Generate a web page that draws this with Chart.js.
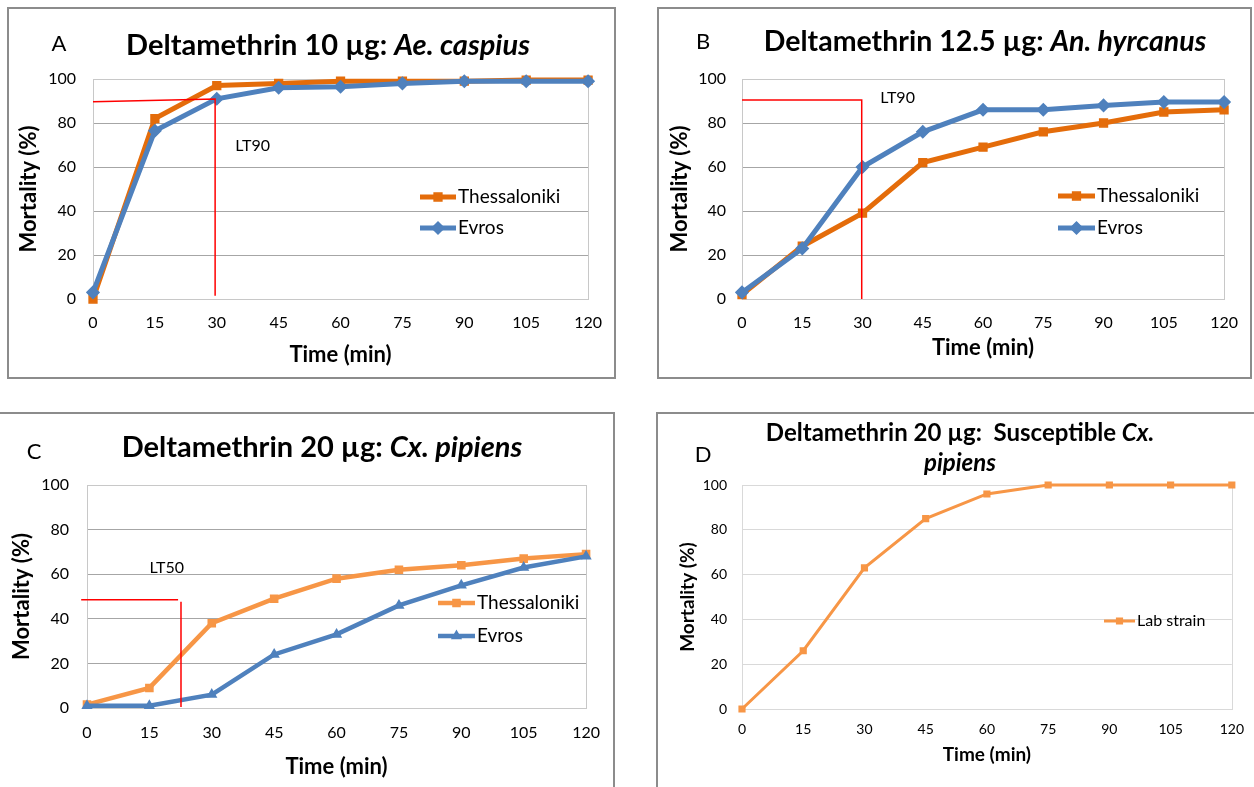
<!DOCTYPE html>
<html>
<head>
<meta charset="utf-8">
<script src="https://cdn.jsdelivr.net/npm/chart.js@4.4.1/dist/chart.umd.min.js"></script>
<style>
  html, body { margin: 0; padding: 0; background: #fff; width: 1254px; height: 787px; overflow: hidden; }
  canvas { position: absolute; }
  .frame { position: absolute; border: 2px solid #8c8c8c; box-sizing: border-box; pointer-events: none; }
</style>
</head>
<body>
<canvas id="chartA"></canvas>
<canvas id="chartB"></canvas>
<canvas id="chartC"></canvas>
<canvas id="chartD"></canvas>
<script>
// time points (min)
const times = [0, 15, 30, 45, 60, 75, 90, 105, 120];

// mortality (%)
const aThessaloniki = [0, 82, 97, 98, 99, 99, 99, 99.5, 99.5];
const aEvros = [3, 76.5, 91, 96, 96.5, 98, 99, 99, 99];
const bThessaloniki = [2, 24, 39, 62, 69, 76, 80, 85, 86];
const bEvros = [3, 23, 60, 76, 86, 86, 88, 89.5, 89.5];
const cThessaloniki = [1.5, 9, 38, 49, 58, 62, 64, 67, 69];
const cEvros = [1, 1, 6, 24, 33, 46, 55, 63, 68];
const dLabStrain = [0, 26, 63, 85, 96, 100, 100, 100, 100];

// LT guide lines (time, mortality)
const aLT90 = [[0, 89.7], [29.6, 90.9], [29.6, 1.5]];
const bLT90 = [[0, 90.5], [29.8, 90.5], [29.8, 0]];
const cLT50h = [[-1.4, 48.5], [21.9, 48.5]];
const cLT50v = [[22.6, 47.6], [22.6, 0.5]];

const FONT = 'Lato, "Open Sans", sans-serif';
const ORANGE_DARK = '#E46C0A';
const ORANGE = '#F79646';
const BLUE = '#4F81BD';
const RED = '#FF0000';

const pts = vals => times.map((t, i) => ({ x: t, y: vals[i] }));
const guide = arr => arr.map(p => ({ x: p[0], y: p[1] }));

function series(label, vals, color, style, radius, width, order) {
  return {
    label: label, data: pts(vals), borderColor: color, backgroundColor: color,
    borderWidth: width, pointStyle: style, pointRadius: radius, pointBorderWidth: 1.5,
    pointBackgroundColor: color, pointBorderColor: color, showLine: true, clip: false, order: order
  };
}
function guideLine(arr) {
  return {
    label: '', data: guide(arr), borderColor: RED, borderWidth: 1.5, pointRadius: 0,
    showLine: true, clip: false, order: 0
  };
}

// draws a list of text runs centred on cx
function drawRuns(ctx, runs, cx, cy) {
  let total = 0;
  runs.forEach(r => { ctx.font = r.font; r.w = ctx.measureText(r.text).width; total += r.w; });
  let x = cx - total / 2;
  ctx.textAlign = 'left';
  ctx.textBaseline = 'middle';
  runs.forEach(r => { ctx.font = r.font; ctx.fillText(r.text, x, cy); x += r.w; });
}

const panelDecor = {
  id: 'panelDecor',
  beforeDatasetsDraw(chart, args, opts) {
    const ctx = chart.ctx, ca = chart.chartArea;
    ctx.save();
    ctx.strokeStyle = opts.frameColor;
    ctx.lineWidth = 1;
    ctx.strokeRect(Math.round(ca.left) + 0.5, Math.round(ca.top) + 0.5,
      Math.round(ca.right - ca.left), Math.round(ca.bottom - ca.top));
    ctx.restore();
  },
  afterDraw(chart, args, opts) {
    const ctx = chart.ctx;
    const ox = opts.box.x, oy = opts.box.y;
    ctx.save();
    ctx.fillStyle = '#000';
    // panel letter
    ctx.font = opts.letterFont;
    ctx.textAlign = 'center';
    ctx.textBaseline = 'middle';
    ctx.fillText(opts.letter.text, opts.letter.x - ox, opts.letter.y - oy);
    // title lines
    opts.titles.forEach(t => drawRuns(ctx, t.runs, t.x - ox, t.y - oy));
    // LT label
    if (opts.ltLabel) {
      const xs = chart.scales.x, ys = chart.scales.y;
      ctx.font = opts.ltLabel.font;
      ctx.textAlign = 'left';
      ctx.textBaseline = 'middle';
      ctx.fillText(opts.ltLabel.text, xs.getPixelForValue(opts.ltLabel.at[0]), ys.getPixelForValue(opts.ltLabel.at[1]));
    }
    // legend
    const lg = opts.legend;
    lg.items.forEach((idx, k) => {
      const ds = chart.data.datasets[idx];
      const x = lg.x - ox, y = lg.y - oy + k * lg.dy;
      ctx.strokeStyle = ds.borderColor;
      ctx.lineWidth = ds.borderWidth;
      ctx.beginPath();
      ctx.moveTo(x, y);
      ctx.lineTo(x + lg.len, y);
      ctx.stroke();
      ctx.fillStyle = ds.borderColor;
      ctx.lineWidth = 1.5;
      Chart.helpers.drawPoint(ctx, { pointStyle: ds.pointStyle, radius: ds.pointRadius, borderWidth: 1.5, rotation: 0 }, x + lg.len / 2, y);
      ctx.fillStyle = '#000';
      ctx.font = lg.font;
      ctx.textAlign = 'left';
      ctx.textBaseline = 'middle';
      ctx.fillText(ds.label, x + lg.len + 2, y);
    });
    ctx.restore();
  }
};

function buildChart(id, p) {
  const canvas = document.getElementById(id);
  canvas.width = p.box.w;
  canvas.height = p.box.h;
  canvas.style.left = p.box.x + 'px';
  canvas.style.top = p.box.y + 'px';
  const frame = document.createElement('div');
  frame.className = 'frame';
  Object.assign(frame.style, { left: p.box.x + 'px', top: p.box.y + 'px', width: p.box.w + 'px', height: p.box.h + 'px' });
  document.body.appendChild(frame);

  new Chart(canvas.getContext('2d'), {
    type: 'scatter',
    data: { datasets: p.datasets },
    options: {
      responsive: false,
      animation: false,
      devicePixelRatio: 1,
      layout: { padding: { left: 0, top: p.plot.t - p.box.y, right: p.box.x + p.box.w - p.plot.r, bottom: 0 } },
      plugins: {
        legend: { display: false },
        tooltip: { enabled: false },
        panelDecor: {
          box: p.box, frameColor: p.frameColor, letter: p.letter, letterFont: p.letterFont,
          titles: p.titles, ltLabel: p.ltLabel, legend: p.legend
        }
      },
      scales: {
        x: {
          type: 'linear', min: 0, max: 120,
          afterFit: s => { s.height = p.box.y + p.box.h - p.plot.b; },
          ticks: { stepSize: 15, autoSkip: false, maxRotation: 0, padding: p.xTickPad, color: '#000', font: { family: FONT, size: p.tickSize } },
          grid: { display: false, drawTicks: false },
          border: { display: true, color: p.axisColor, width: 1 },
          title: { display: true, text: 'Time (min)', color: '#000', padding: { top: 0, bottom: p.xTitlePad }, font: { family: FONT, size: p.axisTitleSize, weight: 'bold' } }
        },
        y: {
          min: 0, max: 100,
          afterFit: s => { s.width = p.plot.l - p.box.x; },
          ticks: { stepSize: 20, padding: p.yTickPad, color: '#000', font: { family: FONT, size: p.tickSize } },
          grid: { color: p.gridColor, lineWidth: 1, drawTicks: false },
          border: { display: true, color: p.axisColor, width: 1 },
          title: { display: true, text: 'Mortality (%)', color: '#000', padding: { top: p.yTitlePad, bottom: 0 }, font: { family: FONT, size: p.axisTitleSize, weight: 'bold' } }
        }
      }
    },
    plugins: [panelDecor]
  });
}

const bold = s => 'bold ' + s + 'px ' + FONT;
const boldIt = s => 'italic bold ' + s + 'px ' + FONT;

buildChart('chartA', {
  box: { x: 7, y: 7, w: 609, h: 372 },
  plot: { l: 93, t: 79, r: 590, b: 299 },
  datasets: [
    series('Thessaloniki', aThessaloniki, ORANGE_DARK, 'rect', 5.5, 5, 2),
    series('Evros', aEvros, BLUE, 'rectRot', 6, 5, 1),
    guideLine(aLT90)
  ],
  tickSize: 16, axisTitleSize: 22,
  xTickPad: 14, xTitlePad: 11, yTickPad: 17, yTitlePad: 9,
  gridColor: '#A6A6A6', axisColor: '#A6A6A6', frameColor: '#C8C8C8',
  letter: { text: 'A', x: 59, y: 44 }, letterFont: '22px ' + FONT,
  titles: [{ x: 328, y: 46, runs: [{ text: 'Deltamethrin 10 µg: ', font: bold(29) }, { text: 'Ae. caspius', font: boldIt(29) }] }],
  ltLabel: { text: 'LT90', at: [34.5, 69.5], font: '16px ' + FONT },
  legend: { items: [0, 1], x: 420, y: 197, dy: 31, len: 36, font: '19px ' + FONT }
});

buildChart('chartB', {
  box: { x: 657, y: 7, w: 595, h: 372 },
  plot: { l: 742, t: 79, r: 1234, b: 299 },
  datasets: [
    series('Thessaloniki', bThessaloniki, ORANGE_DARK, 'rect', 5.5, 5, 2),
    series('Evros', bEvros, BLUE, 'rectRot', 6, 5, 1),
    guideLine(bLT90)
  ],
  tickSize: 16, axisTitleSize: 22,
  xTickPad: 14, xTitlePad: 18, yTickPad: 16, yTitlePad: 10,
  gridColor: '#A6A6A6', axisColor: '#A6A6A6', frameColor: '#C8C8C8',
  letter: { text: 'B', x: 703, y: 42 }, letterFont: '22px ' + FONT,
  titles: [{ x: 985, y: 42, runs: [{ text: 'Deltamethrin 12.5 µg: ', font: bold(28.5) }, { text: 'An. hyrcanus', font: boldIt(28.5) }] }],
  ltLabel: { text: 'LT90', at: [34.4, 91.4], font: '16px ' + FONT },
  legend: { items: [0, 1], x: 1058, y: 196, dy: 32, len: 37, font: '19px ' + FONT }
});

buildChart('chartC', {
  box: { x: -2, y: 412, w: 617, h: 380 },
  plot: { l: 87, t: 485, r: 591, b: 708 },
  datasets: [
    series('Thessaloniki', cThessaloniki, ORANGE, 'rect', 5, 4.5, 2),
    series('Evros', cEvros, BLUE, 'triangle', 5, 4.5, 1),
    guideLine(cLT50h),
    guideLine(cLT50v)
  ],
  tickSize: 16, axisTitleSize: 22,
  xTickPad: 15, xTitlePad: 12, yTickPad: 18, yTitlePad: 11,
  gridColor: '#A6A6A6', axisColor: '#A6A6A6', frameColor: '#C8C8C8',
  letter: { text: 'C', x: 34, y: 452 }, letterFont: '22px ' + FONT,
  titles: [{ x: 322, y: 448, runs: [{ text: 'Deltamethrin 20 µg: ', font: bold(29) }, { text: 'Cx. pipiens', font: boldIt(29) }] }],
  ltLabel: { text: 'LT50', at: [15, 62.8], font: '16px ' + FONT },
  legend: { items: [0, 1], x: 438, y: 603, dy: 33, len: 37, font: '19px ' + FONT }
});

buildChart('chartD', {
  box: { x: 656, y: 412, w: 600, h: 380 },
  plot: { l: 742, t: 485, r: 1234, b: 709 },
  datasets: [
    series('Lab strain', dLabStrain, ORANGE, 'rect', 4, 3, 1)
  ],
  tickSize: 14, axisTitleSize: 19,
  xTickPad: 12, xTitlePad: 26, yTickPad: 15, yTitlePad: 20,
  gridColor: '#D9D9D9', axisColor: '#D9D9D9', frameColor: '#D9D9D9',
  letter: { text: 'D', x: 703, y: 455 }, letterFont: '22px ' + FONT,
  titles: [
    { x: 960, y: 433, runs: [{ text: 'Deltamethrin 20 µg:  Susceptible ', font: bold(24) }, { text: 'Cx.', font: boldIt(24) }] },
    { x: 960, y: 463, runs: [{ text: 'pipiens', font: boldIt(24) }] }
  ],
  ltLabel: null,
  legend: { items: [0], x: 1104, y: 621, dy: 0, len: 31, font: '16px ' + FONT }
});
</script>
</body>
</html>
